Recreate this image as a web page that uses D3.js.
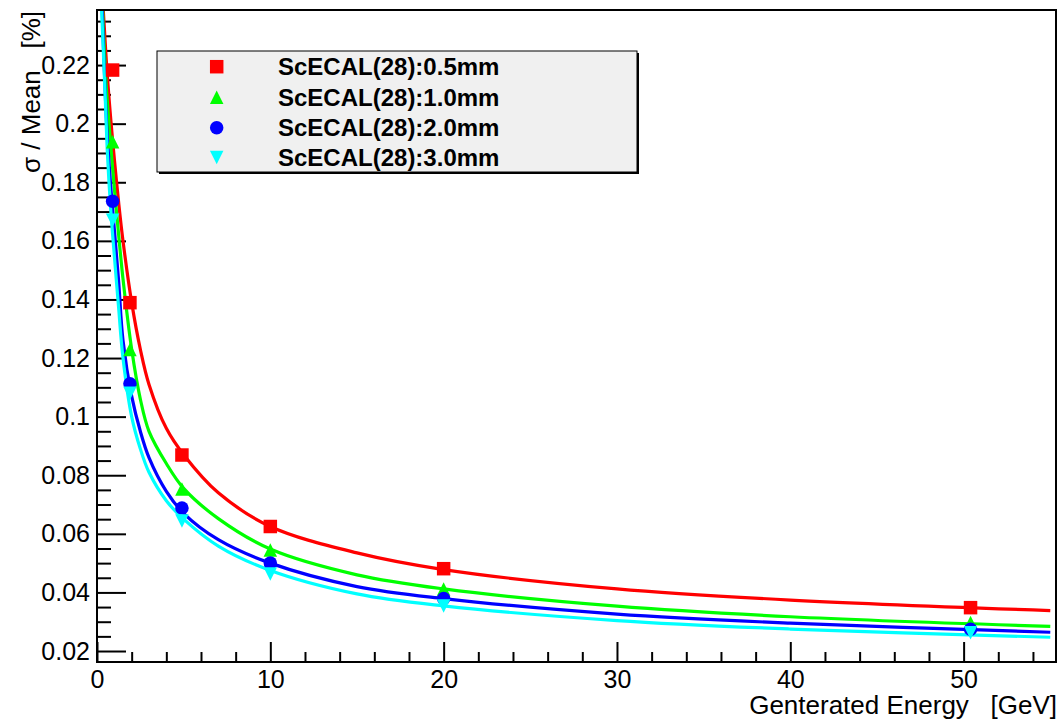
<!DOCTYPE html>
<html>
<head>
<meta charset="utf-8">
<script src="https://cdn.jsdelivr.net/npm/d3@7"></script>
<style>
  body { margin: 0; background: #ffffff; }
  svg text { font-family: "Liberation Sans", Arial, Helvetica, sans-serif; }
</style>
</head>
<body>
<svg id="chart" width="1060" height="721"></svg>
<script>
// Beam energies of the measured points [GeV]
const energies = [0.9, 1.9, 4.9, 10, 20, 50.4];

// Legend entries, one per strip thickness
const seriesLabels = ["ScECAL(28):0.5mm", "ScECAL(28):1.0mm", "ScECAL(28):2.0mm", "ScECAL(28):3.0mm"];

// Energy resolution sigma/mean at each beam energy
const res05 = [0.2183, 0.1389, 0.0869, 0.0625, 0.0481, 0.0348];
const res10 = [0.1938, 0.1229, 0.0753, 0.0545, 0.0412, 0.0297];
const res20 = [0.1735, 0.1112, 0.0688, 0.0500, 0.0379, 0.0274];
const res30 = [0.1670, 0.1080, 0.0644, 0.0463, 0.0354, 0.0262];

// Fitted resolution curves, sampled along the energy axis
const fitEnergies = [0.25, 0.3, 0.4, 0.5, 0.6, 0.8, 1.0, 1.25, 1.5, 2, 2.5, 3, 4, 5, 7, 10, 15, 20, 30, 40, 55];
const fit05 = [0.257, 0.246, 0.235, 0.225, 0.216, 0.201, 0.188, 0.173, 0.160, 0.139, 0.123, 0.111, 0.096, 0.087, 0.0740, 0.0625, 0.0535, 0.0478, 0.0412, 0.0374, 0.0338];
const fit10 = [0.252, 0.243, 0.228, 0.216, 0.207, 0.192, 0.178, 0.162, 0.147, 0.123, 0.106, 0.095, 0.084, 0.0755, 0.0652, 0.0548, 0.0460, 0.0412, 0.0353, 0.0317, 0.0284];
const fit20 = [0.248, 0.239, 0.222, 0.207, 0.195, 0.178, 0.164, 0.146, 0.126, 0.107, 0.095, 0.086, 0.0745, 0.0670, 0.0580, 0.0500, 0.0420, 0.0379, 0.0326, 0.0295, 0.0264];
const fit30 = [0.242, 0.234, 0.220, 0.205, 0.190, 0.170, 0.155, 0.137, 0.120, 0.100, 0.089, 0.081, 0.0713, 0.0650, 0.0558, 0.0475, 0.0395, 0.0354, 0.0304, 0.0275, 0.0247];

// Axis ticks and labels
const xMajorTicks = [0, 10, 20, 30, 40, 50];
const xMinorTicks = [2, 4, 6, 8, 12, 14, 16, 18, 22, 24, 26, 28, 32, 34, 36, 38, 42, 44, 46, 48, 52, 54];
const yMajorTicks = [0.02, 0.04, 0.06, 0.08, 0.10, 0.12, 0.14, 0.16, 0.18, 0.20, 0.22];
const yTickLabels = ["0.02", "0.04", "0.06", "0.08", "0.1", "0.12", "0.14", "0.16", "0.18", "0.2", "0.22"];
const yMinorTicks = [0.025, 0.03, 0.035, 0.045, 0.05, 0.055, 0.065, 0.07, 0.075, 0.085, 0.09, 0.095,
  0.105, 0.11, 0.115, 0.125, 0.13, 0.135, 0.145, 0.15, 0.155, 0.165, 0.17, 0.175, 0.185, 0.19, 0.195,
  0.205, 0.21, 0.215, 0.225, 0.23, 0.235];

const colors = ["#ff0000", "#00ff00", "#0000ff", "#00ffff"];
const markerKinds = ["square", "triangleUp", "circle", "triangleDown"];

const fits = [fit05, fit10, fit20, fit30];
const series = [res05, res10, res20, res30].map((vals, i) => ({
  label: seriesLabels[i],
  color: colors[i],
  marker: markerKinds[i],
  points: energies.map((e, j) => ({ e, v: vals[j] })),
  fit: fitEnergies.map((e, j) => ({ e, v: fits[i][j] }))
}));

// Frame geometry
const frame = { left: 97, right: 1056, top: 10, bottom: 662 };
const svg = d3.select("#chart");

const x = d3.scaleLinear().domain([0, 55.33]).range([frame.left, frame.right]);
const y = d3.scaleLinear().domain([0.01625, 0.2388]).range([frame.bottom, frame.top]);

svg.append("rect").attr("width", 1060).attr("height", 721).attr("fill", "#ffffff");

svg.append("defs").append("clipPath").attr("id", "plot-clip")
  .append("rect")
  .attr("x", frame.left).attr("y", frame.top)
  .attr("width", frame.right - frame.left).attr("height", frame.bottom - frame.top);

// Marker shapes, centred on the origin
function markerPath(kind, s) {
  const h = s / 2;
  if (kind === "square") return `M${-h},${-h}H${h}V${h}H${-h}Z`;
  if (kind === "triangleUp") return `M0,${-h}L${h},${h}L${-h},${h}Z`;
  if (kind === "triangleDown") return `M0,${h}L${h},${-h}L${-h},${-h}Z`;
  return d3.symbol(d3.symbolCircle, Math.PI * h * h)();
}

// Axes: ticks drawn inside the frame
const fontSize = 25;

const yAxis = svg.append("g").attr("transform", `translate(${frame.left},0)`)
  .call(d3.axisLeft(y).tickValues(yMajorTicks)
    .tickFormat((d, i) => yTickLabels[i])
    .tickSizeInner(-29).tickSizeOuter(0).tickPadding(7));
yAxis.select(".domain").remove();
yAxis.selectAll("line").attr("stroke", "#000").attr("stroke-width", 2);
yAxis.selectAll("text").attr("font-size", fontSize).attr("fill", "#000")
  .attr("font-family", "Liberation Sans, Arial, sans-serif");

const yMinor = svg.append("g").attr("transform", `translate(${frame.left},0)`)
  .call(d3.axisLeft(y).tickValues(yMinorTicks).tickFormat("").tickSizeInner(-14).tickSizeOuter(0));
yMinor.select(".domain").remove();
yMinor.selectAll("line").attr("stroke", "#000").attr("stroke-width", 2);

const xAxis = svg.append("g").attr("transform", `translate(0,${frame.bottom})`)
  .call(d3.axisBottom(x).tickValues(xMajorTicks).tickFormat(d3.format("d"))
    .tickSizeInner(-20).tickSizeOuter(0).tickPadding(8));
xAxis.select(".domain").remove();
xAxis.selectAll("line").attr("stroke", "#000").attr("stroke-width", 2);
xAxis.selectAll("text").attr("font-size", fontSize).attr("fill", "#000")
  .attr("font-family", "Liberation Sans, Arial, sans-serif");

const xMinor = svg.append("g").attr("transform", `translate(0,${frame.bottom})`)
  .call(d3.axisBottom(x).tickValues(xMinorTicks).tickFormat("").tickSizeInner(-10).tickSizeOuter(0));
xMinor.select(".domain").remove();
xMinor.selectAll("line").attr("stroke", "#000").attr("stroke-width", 2);

// Fitted curves
const line = d3.line().x(d => x(d.e)).y(d => y(d.v)).curve(d3.curveCatmullRom.alpha(0.5));
const plot = svg.append("g").attr("clip-path", "url(#plot-clip)");
series.forEach(s => {
  plot.append("path")
    .attr("d", line(s.fit))
    .attr("fill", "none")
    .attr("stroke", s.color)
    .attr("stroke-width", 3.2);
});

// Measured points
series.forEach(s => {
  plot.selectAll(null).data(s.points).enter().append("path")
    .attr("transform", d => `translate(${x(d.e)},${y(d.v)})`)
    .attr("d", markerPath(s.marker, 13.5))
    .attr("fill", s.color);
});

// Frame
svg.append("rect")
  .attr("x", frame.left).attr("y", frame.top)
  .attr("width", frame.right - frame.left).attr("height", frame.bottom - frame.top)
  .attr("fill", "none").attr("stroke", "#000").attr("stroke-width", 2);

// Axis titles
svg.append("text")
  .attr("x", frame.right + 1).attr("y", 714)
  .attr("text-anchor", "end")
  .attr("font-size", 26)
  .style("white-space", "pre")
  .text("Genterated Energy   [GeV]");

svg.append("text")
  .attr("transform", `translate(40,11) rotate(-90)`)
  .attr("text-anchor", "end")
  .attr("font-size", 26)
  .style("white-space", "pre")
  .text("\u03c3 / Mean   [%]");

// Legend
const legend = { x: 157, y: 51, w: 480, h: 121 };
svg.append("rect")
  .attr("x", legend.x + 2).attr("y", legend.y + 2)
  .attr("width", legend.w).attr("height", legend.h)
  .attr("fill", "#000");
svg.append("rect")
  .attr("x", legend.x).attr("y", legend.y)
  .attr("width", legend.w).attr("height", legend.h)
  .attr("fill", "#f0f0f0").attr("stroke", "#000").attr("stroke-width", 1);

const rowY = [66.7, 97.2, 127.7, 157.5];
series.forEach((s, i) => {
  svg.append("path")
    .attr("transform", `translate(216.7,${rowY[i]})`)
    .attr("d", markerPath(s.marker, 13.5))
    .attr("fill", s.color);
  svg.append("text")
    .attr("x", 278).attr("y", rowY[i] + 8.6)
    .attr("font-size", 24)
    .attr("font-weight", "bold")
    .attr("fill", "#000")
    .text(s.label);
});
</script>
</body>
</html>
